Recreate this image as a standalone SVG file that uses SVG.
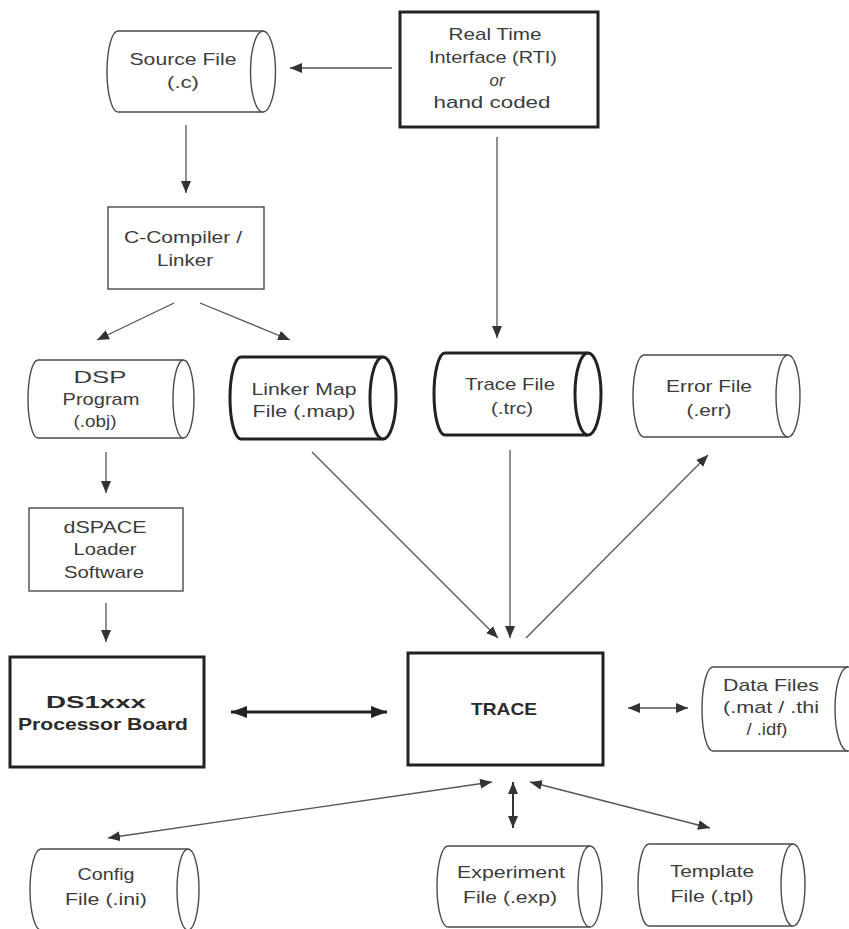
<svg xmlns="http://www.w3.org/2000/svg" width="849" height="929" viewBox="0 0 849 929">
  <style>
    .thin { fill: #fff; stroke: #4a4a4a; stroke-width: 1.4; }
    .thick { fill: #fff; stroke: #222; stroke-width: 3; }
    .lbl { font-family: "Liberation Sans", Arial, sans-serif; font-size: 17px; fill: #3c3c3c; text-anchor: middle; }
    .bold { font-weight: bold; fill: #2a2a2a; }
    .it { font-style: italic; }
    .wire { fill: none; stroke: #555; stroke-width: 1.3; }
    .wire2 { fill: none; stroke: #333; stroke-width: 2; }
    .wire3 { fill: none; stroke: #222; stroke-width: 3; }
  </style>
  <defs>
    <marker id="arr" viewBox="0 0 12 10" refX="12" refY="5" markerWidth="12" markerHeight="10" markerUnits="userSpaceOnUse" orient="auto-start-reverse">
      <path d="M0,0 L12,5 L0,10 Z" fill="#333"/>
    </marker>
    <marker id="arrBig" viewBox="0 0 16 12" refX="16" refY="6" markerWidth="16" markerHeight="12" markerUnits="userSpaceOnUse" orient="auto-start-reverse">
      <path d="M0,0 L16,6 L0,12 Z" fill="#222"/>
    </marker>
  </defs>
  <rect width="849" height="929" fill="#fff"/>

  <!-- connectors -->
  <g id="connectors">
    <line class="wire" x1="392" y1="68" x2="290" y2="68" marker-end="url(#arr)"/>
    <line class="wire" x1="186" y1="125" x2="186" y2="193" marker-end="url(#arr)"/>
    <line class="wire" x1="174" y1="303" x2="97" y2="340" marker-end="url(#arr)"/>
    <line class="wire" x1="200" y1="303" x2="290" y2="340" marker-end="url(#arr)"/>
    <line class="wire" x1="106" y1="452" x2="106" y2="493" marker-end="url(#arr)"/>
    <line class="wire" x1="106" y1="603" x2="106" y2="642" marker-end="url(#arr)"/>
    <line class="wire3" x1="231" y1="712" x2="387" y2="712" marker-start="url(#arrBig)" marker-end="url(#arrBig)"/>
    <line class="wire" x1="497" y1="137" x2="497" y2="338" marker-end="url(#arr)"/>
    <line class="wire" x1="312" y1="452" x2="498" y2="638" marker-end="url(#arr)"/>
    <line class="wire" x1="510" y1="450" x2="510" y2="638" marker-end="url(#arr)"/>
    <line class="wire" x1="526" y1="638" x2="708" y2="455" marker-end="url(#arr)"/>
    <line class="wire" x1="628" y1="708" x2="688" y2="708" marker-start="url(#arr)" marker-end="url(#arr)"/>
    <line class="wire" x1="492" y1="782" x2="108" y2="838" marker-start="url(#arr)" marker-end="url(#arr)"/>
    <line class="wire2" x1="513" y1="782" x2="513" y2="828" marker-start="url(#arr)" marker-end="url(#arr)"/>
    <line class="wire" x1="530" y1="782" x2="710" y2="828" marker-start="url(#arr)" marker-end="url(#arr)"/>
  </g>

  <!-- Source File -->
  <g id="source-file">
    <path class="thin" d="M263,31 H118 A11,40.5 0 0 0 118,112 H263"/>
    <ellipse class="thin" cx="263" cy="71.5" rx="12.5" ry="40.5"/>
    <text class="lbl" x="183" y="65" textLength="107" lengthAdjust="spacingAndGlyphs">Source File</text>
    <text class="lbl" x="183" y="88" textLength="32" lengthAdjust="spacingAndGlyphs">(.c)</text>
  </g>

  <!-- Real Time Interface -->
  <g id="rti">
    <rect class="thick" x="400" y="12" width="198" height="115"/>
    <text class="lbl" x="495" y="40" textLength="93" lengthAdjust="spacingAndGlyphs">Real Time</text>
    <text class="lbl" x="493" y="63" textLength="128" lengthAdjust="spacingAndGlyphs">Interface (RTI)</text>
    <text class="lbl it" x="497" y="86" textLength="15" lengthAdjust="spacingAndGlyphs">or</text>
    <text class="lbl" x="492" y="108" textLength="117" lengthAdjust="spacingAndGlyphs">hand coded</text>
  </g>

  <!-- C-Compiler / Linker -->
  <g id="compiler">
    <rect class="thin" x="108" y="207" width="156" height="82"/>
    <text class="lbl" x="183" y="243" textLength="118" lengthAdjust="spacingAndGlyphs">C-Compiler /</text>
    <text class="lbl" x="185" y="266" textLength="56" lengthAdjust="spacingAndGlyphs">Linker</text>
  </g>

  <!-- DSP Program -->
  <g id="dsp-program">
    <path class="thin" d="M183.5,360 H38 A10,39 0 0 0 38,438 H183.5"/>
    <ellipse class="thin" cx="183.5" cy="399" rx="10.5" ry="39"/>
    <text class="lbl" x="100" y="383" textLength="53" lengthAdjust="spacingAndGlyphs">DSP</text>
    <text class="lbl" x="101" y="405" textLength="77" lengthAdjust="spacingAndGlyphs">Program</text>
    <text class="lbl" x="95" y="427" textLength="43" lengthAdjust="spacingAndGlyphs">(.obj)</text>
  </g>

  <!-- Linker Map File -->
  <g id="linker-map">
    <path class="thick" d="M383,357 H241 A11,41 0 0 0 241,439 H383"/>
    <ellipse class="thick" cx="383" cy="398" rx="13" ry="41"/>
    <text class="lbl" x="304" y="395" textLength="105" lengthAdjust="spacingAndGlyphs">Linker Map</text>
    <text class="lbl" x="304" y="417" textLength="103" lengthAdjust="spacingAndGlyphs">File (.map)</text>
  </g>

  <!-- Trace File -->
  <g id="trace-file">
    <path class="thick" d="M588,353 H445 A11,41 0 0 0 445,435 H588"/>
    <ellipse class="thick" cx="588" cy="394" rx="13" ry="41"/>
    <text class="lbl" x="510" y="390" textLength="90" lengthAdjust="spacingAndGlyphs">Trace File</text>
    <text class="lbl" x="512" y="414" textLength="42" lengthAdjust="spacingAndGlyphs">(.trc)</text>
  </g>

  <!-- Error File -->
  <g id="error-file">
    <path class="thin" d="M788,355 H644 A11,41 0 0 0 644,437 H788"/>
    <ellipse class="thin" cx="788" cy="396" rx="12" ry="41"/>
    <text class="lbl" x="709" y="392" textLength="86" lengthAdjust="spacingAndGlyphs">Error File</text>
    <text class="lbl" x="709" y="416" textLength="45" lengthAdjust="spacingAndGlyphs">(.err)</text>
  </g>

  <!-- dSPACE Loader Software -->
  <g id="loader">
    <rect class="thin" x="29" y="508" width="154" height="83"/>
    <text class="lbl" x="105" y="533" textLength="83" lengthAdjust="spacingAndGlyphs">dSPACE</text>
    <text class="lbl" x="105" y="555" textLength="63" lengthAdjust="spacingAndGlyphs">Loader</text>
    <text class="lbl" x="104" y="578" textLength="80" lengthAdjust="spacingAndGlyphs">Software</text>
  </g>

  <!-- DS1xxx Processor Board -->
  <g id="processor-board">
    <rect class="thick" x="10" y="657" width="194" height="110"/>
    <text class="lbl bold" x="96" y="708" textLength="100" lengthAdjust="spacingAndGlyphs">DS1xxx</text>
    <text class="lbl bold" x="103" y="730" textLength="170" lengthAdjust="spacingAndGlyphs">Processor Board</text>
  </g>

  <!-- TRACE -->
  <g id="trace">
    <rect class="thick" x="408" y="653" width="195" height="112"/>
    <text class="lbl bold" x="504" y="715" textLength="66" lengthAdjust="spacingAndGlyphs">TRACE</text>
  </g>

  <!-- Data Files -->
  <g id="data-files">
    <path class="thin" d="M848,667 H713 A11,42 0 0 0 713,751 H848"/>
    <ellipse class="thin" cx="848" cy="709" rx="13" ry="42"/>
    <text class="lbl" x="771" y="691" textLength="96" lengthAdjust="spacingAndGlyphs">Data Files</text>
    <text class="lbl" x="771" y="713" textLength="96" lengthAdjust="spacingAndGlyphs">(.mat / .thi</text>
    <text class="lbl" x="767" y="735" textLength="41" lengthAdjust="spacingAndGlyphs">/ .idf)</text>
  </g>

  <!-- Config File -->
  <g id="config-file">
    <path class="thin" d="M188,849 H41 A11,40.5 0 0 0 41,930 H188"/>
    <ellipse class="thin" cx="188" cy="889.5" rx="11" ry="40.5"/>
    <text class="lbl" x="106" y="880" textLength="57" lengthAdjust="spacingAndGlyphs">Config</text>
    <text class="lbl" x="106" y="905" textLength="82" lengthAdjust="spacingAndGlyphs">File (.ini)</text>
  </g>

  <!-- Experiment File -->
  <g id="experiment-file">
    <path class="thin" d="M590,846 H448 A11,40.5 0 0 0 448,927 H590"/>
    <ellipse class="thin" cx="590" cy="886.5" rx="12" ry="40.5"/>
    <text class="lbl" x="511" y="878" textLength="108" lengthAdjust="spacingAndGlyphs">Experiment</text>
    <text class="lbl" x="510" y="903" textLength="94" lengthAdjust="spacingAndGlyphs">File (.exp)</text>
  </g>

  <!-- Template File -->
  <g id="template-file">
    <path class="thin" d="M793,844 H649 A11,41 0 0 0 649,926 H793"/>
    <ellipse class="thin" cx="793" cy="885" rx="12" ry="41"/>
    <text class="lbl" x="712" y="877" textLength="84" lengthAdjust="spacingAndGlyphs">Template</text>
    <text class="lbl" x="712" y="902" textLength="83" lengthAdjust="spacingAndGlyphs">File (.tpl)</text>
  </g>
</svg>
